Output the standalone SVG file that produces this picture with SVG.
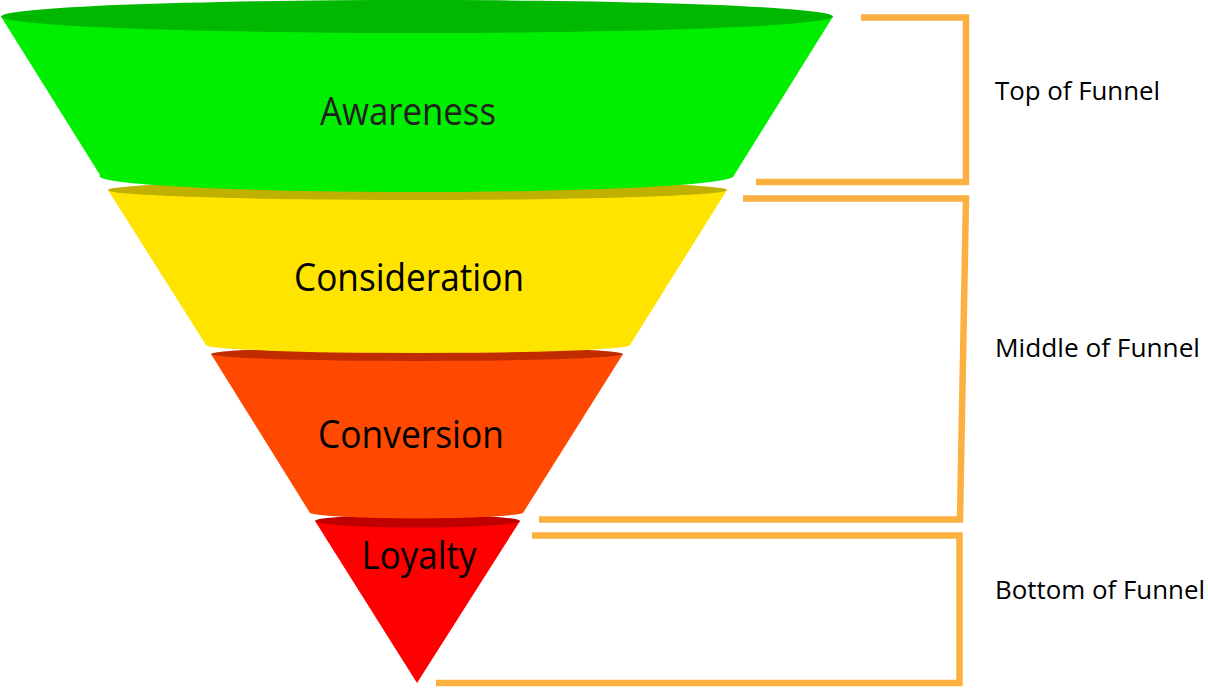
<svg xmlns="http://www.w3.org/2000/svg" width="1208" height="688" viewBox="0 0 1208 688">
<style>
.lbl{font-family:"Open Sans","Noto Sans","Liberation Sans",sans-serif;font-size:38px;fill:#000;text-anchor:middle}
.side{font-family:"Open Sans","Noto Sans","Liberation Sans",sans-serif;font-size:26px;fill:#000}
.br{fill:none;stroke:#fbb040;stroke-width:6.5;stroke-linejoin:miter;stroke-linecap:butt}
</style>
<rect width="1208" height="688" fill="#ffffff"/>
<g id="loyalty">
<path d="M315,521 L417,683 L520,521 Z" fill="#ff0000"/>
<ellipse cx="417.5" cy="521" rx="102.5" ry="6.5" fill="#c00000"/>
<text class="lbl" x="419" y="569" textLength="115" lengthAdjust="spacingAndGlyphs">Loyalty</text>
</g>
<g id="conversion">
<path d="M211,354 L310,513 A107,6 0 0 0 523,513 L623,354 Z" fill="#ff4800"/>
<ellipse cx="417" cy="354" rx="206" ry="7" fill="#c02c00"/>
<text class="lbl" x="411" y="448" textLength="186" lengthAdjust="spacingAndGlyphs">Conversion</text>
</g>
<g id="consideration">
<path d="M108,190 L206,345 A212,8 0 0 0 630,345 L727,190 Z" fill="#ffe400"/>
<ellipse cx="417.5" cy="190" rx="309.5" ry="10" fill="#c0b000"/>
<text class="lbl" x="409" y="291" textLength="230" lengthAdjust="spacingAndGlyphs">Consideration</text>
</g>
<g id="awareness">
<path d="M1,16.5 L100,175 A316.5,16 0 0 0 733,177 L833,16.5 Z" fill="#00ee00"/>
<ellipse cx="417" cy="16.5" rx="416" ry="16.5" fill="#00b800"/>
<text class="lbl" x="408" y="125" textLength="176" lengthAdjust="spacingAndGlyphs" style="fill:#231f20">Awareness</text>
</g>
<g id="connectors">
<path class="br" d="M861,17.5 H966 V182 H756"/>
<path class="br" d="M743,198.5 H966 L960,519.5 H539"/>
<path class="br" d="M532,535.5 H959.5 V683 H436"/>
</g>
<g id="top-of-funnel"><text class="side" x="995" y="100" textLength="165" lengthAdjust="spacingAndGlyphs">Top of Funnel</text></g>
<g id="middle-of-funnel"><text class="side" x="995" y="357" textLength="205" lengthAdjust="spacingAndGlyphs">Middle of Funnel</text></g>
<g id="bottom-of-funnel"><text class="side" x="995" y="599" textLength="210" lengthAdjust="spacingAndGlyphs">Bottom of Funnel</text></g>
</svg>
